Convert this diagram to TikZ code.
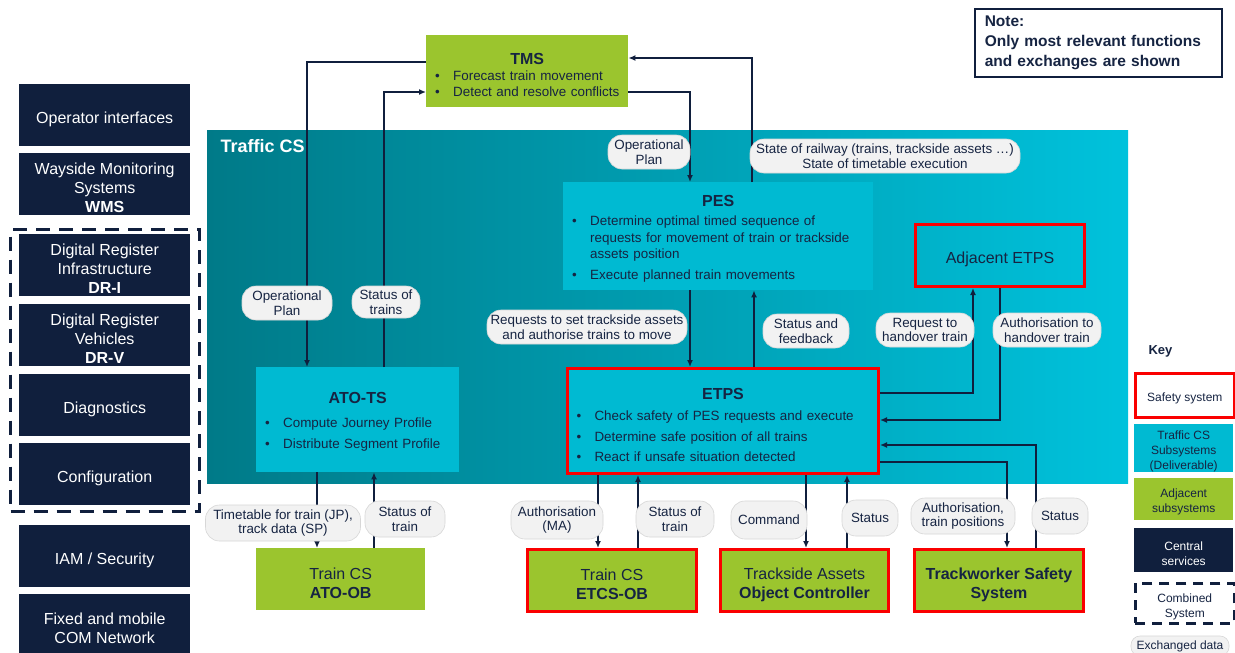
\documentclass[tikz,border=0pt]{standalone}
\usepackage{fontspec}
\setmainfont{Liberation Sans}
\usepackage{xcolor}
\usepackage{tikz}
\usetikzlibrary{arrows.meta}

\definecolor{navy}{RGB}{16,31,61}
\definecolor{txtblue}{RGB}{22,36,66}
\definecolor{grn}{RGB}{155,197,46}
\definecolor{cyn}{RGB}{0,186,210}
\definecolor{tealL}{RGB}{0,122,136}
\definecolor{tealR}{RGB}{0,194,220}
\definecolor{bub}{RGB}{242,242,242}
\definecolor{bubline}{RGB}{215,215,215}
\definecolor{sred}{RGB}{250,0,0}

\newcommand{\bitem}[1]{\par\noindent\hangindent=27pt\hangafter=1\hspace*{9pt}\makebox[18pt][l]{\textbullet}#1\par}
\newcommand{\bodyfont}{\fontsize{13.4}{16.5}\selectfont}
\newcommand{\titlefont}{\fontsize{16}{19}\selectfont\bfseries}
\newcommand{\dn}{\rule{0pt}{19.5pt}}
\newcommand{\kdn}{\rule{0pt}{15pt}}

\begin{document}
\begin{tikzpicture}[x=1pt,y=-1pt]

\tikzstyle{blk}=[anchor=north west,inner sep=0pt,text=txtblue]
\tikzstyle{sub}=[blk,fill=cyn]
\tikzstyle{adjsys}=[blk,fill=grn,align=center,font=\fontsize{16}{19}\selectfont]
\tikzstyle{safety}=[draw=sred,line width=3pt]
\tikzstyle{central}=[blk,fill=navy,text=white,align=center,minimum width=171pt,minimum height=62pt,font=\fontsize{16}{19}\selectfont]
\tikzstyle{bubble}=[fill=bub,draw=bubline,line width=0.6pt,rounded corners=14pt,inner sep=2pt,align=center,text=txtblue,font=\fontsize{13.4}{14.5}\selectfont]
\tikzstyle{flow}=[draw=navy,line width=1.6pt,-{Latex[length=7pt,width=6pt]}]
\tikzstyle{keybox}=[blk,align=center,minimum width=99pt,minimum height=44pt,font=\fontsize{12}{15}\selectfont]

\useasboundingbox (0,0) rectangle (1235,653);
\fill[white] (0,0) rectangle (1235,653);

%% Traffic CS area
\fill[left color=tealL,right color=tealR] (207,130) rectangle (1128,483);
\node[anchor=west,text=white,font=\fontsize{18}{22}\selectfont\bfseries] (trafficcs) at (217,146) {Traffic CS};

%% TMS
\node[adjsys,align=left,minimum width=202pt,minimum height=72pt,text width=202pt,font=\bodyfont] (tms) at (426,35)
  {{\centering\titlefont\rule{0pt}{19.5pt}TMS\par}\vspace{-1pt}\bitem{Forecast train movement}\bitem{Detect and resolve conflicts}};

%% PES
\node[sub,align=left,minimum width=310pt,minimum height=108pt,text width=310pt,font=\bodyfont] (pes) at (563,182)
  {{\centering\titlefont\rule{0pt}{15.5pt}PES\par}\vspace{-1pt}\setlength{\parskip}{4pt}%
   \bitem{Determine optimal timed sequence of\newline requests for movement of train or trackside\newline assets position}%
   \bitem{Execute planned train movements}};

%% ATO-TS
\node[sub,align=left,minimum width=203pt,minimum height=105pt,text width=203pt,font=\bodyfont] (atots) at (256,367)
  {{\centering\titlefont\rule{0pt}{14.5pt}ATO-TS\par}\vspace{4pt}\setlength{\parskip}{4pt}%
   \bitem{Compute Journey Profile}\bitem{Distribute Segment Profile}};

%% ETPS
\node[sub,safety,align=left,minimum width=311pt,minimum height=105pt,text width=311pt,font=\bodyfont] (etps) at (566,367)
  {{\centering\titlefont\rule{0pt}{19.5pt}ETPS\par}\vspace{1pt}\setlength{\parskip}{4pt}%
   \bitem{Check safety of PES requests and execute}\bitem{Determine safe position of all trains}%
   \bitem{React if unsafe situation detected}};

%% Adjacent ETPS
\node[blk,safety,align=center,minimum width=169pt,minimum height=62pt,font=\fontsize{16}{19}\selectfont] (adj) at (914,223) {\dn Adjacent ETPS};

%% bottom subsystems
\node[adjsys,minimum width=169pt,minimum height=62pt] (atoob) at (256,548) {\dn Train CS\\\textbf{ATO-OB}};
\node[adjsys,safety,minimum width=169pt,minimum height=62pt] (etcsob) at (526,548) {\dn Train CS\\\textbf{ETCS-OB}};
\node[adjsys,safety,minimum width=168pt,minimum height=62pt] (oc) at (719,548) {\dn Trackside Assets\\\textbf{Object Controller}};
\node[adjsys,safety,minimum width=169pt,minimum height=62pt] (tws) at (913,548) {\dn\textbf{Trackworker Safety}\\\textbf{System}};

%% central services
\node[central] (opif) at (19,84) {\dn Operator interfaces};
\node[central] (wms) at (19,153) {\dn Wayside Monitoring\\Systems\\\textbf{WMS}};
\node[central] (dri) at (19,234) {\dn Digital Register\\Infrastructure\\\textbf{DR-I}};
\node[central] (drv) at (19,304) {\dn Digital Register\\Vehicles\\\textbf{DR-V}};
\node[central] (diag) at (19,374) {\dn Diagnostics};
\node[central] (conf) at (19,443) {\dn Configuration};
\node[central] (iam) at (19,525) {\dn IAM / Security};
\node[central,minimum height=60pt] (com) at (19,594) {\dn Fixed and mobile\\COM Network};
\node[blk,draw=navy,line width=3pt,dash pattern=on 14pt off 9pt,minimum width=189pt,minimum height=282pt] (combined) at (9,228) {};

%% exchanges
\draw[flow] (tms.west |- 0,62) -| (atots.north -| 307,0);
\draw[flow] (atots.north -| 384,0) |- (tms.west |- 0,92);
\draw[flow] (tms.east |- 0,92) -| (pes.north -| 690,0);
\draw[flow] (pes.north -| 752,0) |- (tms.east |- 0,58);
\draw[flow] (pes.south -| 690,0) -- (etps.north -| 690,0);
\draw[flow] (etps.north -| 754,0) -- (pes.south -| 754,0);
\draw[flow] (etps.east |- 0,393) -| (adj.south -| 973,0);
\draw[flow] (adj.south -| 1000,0) |- (etps.east |- 0,420);
\draw[flow] (tws.north -| 1036,0) |- (etps.east |- 0,445);
\draw[flow] (etps.east |- 0,462) -| (tws.north -| 1007,0);
\draw[flow] (atots.south -| 317,0) -- (atoob.north -| 317,0);
\draw[flow] (atoob.north -| 374,0) -- (atots.south -| 374,0);
\draw[flow] (etps.south -| 598,0) -- (etcsob.north -| 598,0);
\draw[flow] (etcsob.north -| 638,0) -- (etps.south -| 638,0);
\draw[flow] (etps.south -| 806,0) -- (oc.north -| 806,0);
\draw[flow] (oc.north -| 847,0) -- (etps.south -| 847,0);

%% exchanged data
\node[bubble,minimum width=90pt,minimum height=34pt] (opplanA) at (287,303) {Operational\\Plan};
\node[bubble,minimum width=68pt,minimum height=32pt] (stattrains) at (386,302) {Status of\\trains};
\node[bubble,minimum width=82pt,minimum height=34pt] (opplanB) at (649,152) {Operational\\Plan};
\node[bubble,minimum width=270pt,minimum height=34pt] (staterail) at (885,156) {State of railway (trains, trackside assets …)\\State of timetable execution};
\node[bubble,minimum width=200pt,minimum height=34pt] (reqset) at (587,327) {Requests to set trackside assets\\and authorise trains to move};
\node[bubble,minimum width=86pt,minimum height=34pt] (statfb) at (806,331) {Status and\\feedback};
\node[bubble,minimum width=98pt,minimum height=34pt] (reqhand) at (925,330) {Request to\\handover train};
\node[bubble,minimum width=108pt,minimum height=34pt] (authhand) at (1047,330) {Authorisation to\\handover train};
\node[bubble,minimum width=155pt,minimum height=36pt] (timetable) at (283,523) {Timetable for train (JP),\\track data (SP)};
\node[bubble,minimum width=80pt,minimum height=36pt] (stattrainA) at (405,519) {Status of\\train};
\node[bubble,minimum width=92pt,minimum height=38pt] (authma) at (557,520) {Authorisation\\(MA)};
\node[bubble,minimum width=78pt,minimum height=36pt] (stattrainB) at (675,519) {Status of\\train};
\node[bubble,minimum width=76pt,minimum height=38pt] (command) at (769,520) {Command};
\node[bubble,minimum width=56pt,minimum height=36pt] (statA) at (870,518) {Status};
\node[bubble,minimum width=104pt,minimum height=36pt] (authtp) at (963,516) {Authorisation,\\train positions};
\node[bubble,minimum width=56pt,minimum height=36pt] (statB) at (1060,516) {Status};

%% note
\node[blk,draw=navy,line width=1.5pt,minimum width=247pt,minimum height=68pt,text width=227pt,inner xsep=10pt,align=left,font=\fontsize{15.5}{20}\selectfont\bfseries] (note) at (974,8)
  {Note:\\Only most relevant functions\\and exchanges are shown};

%% key
\node[anchor=west,text=txtblue,font=\fontsize{13}{15}\selectfont\bfseries] (key) at (1145,351) {Key};
\node[keybox,fill=white,draw=sred,line width=2.5pt] (keysafe) at (1134,372) {\kdn Safety system};
\node[keybox,fill=cyn,text=txtblue,minimum height=46pt] (keysub) at (1134,424) {\kdn Traffic CS\\Subsystems\\(Deliverable)};
\node[keybox,fill=grn,text=txtblue,minimum height=42pt] (keyadj) at (1134,478) {\kdn Adjacent\\subsystems};
\node[keybox,fill=navy,text=white] (keycentral) at (1134,528) {\kdn Central\\services};
\node[keybox,draw=navy,line width=2.5pt,dash pattern=on 10pt off 7pt,text=txtblue,minimum height=40pt] (keycomb) at (1134,582) {\kdn Combined\\System};
\node[bubble,rounded corners=9pt,minimum width=98pt,minimum height=20pt,font=\fontsize{12}{14}\selectfont] (keyex) at (1180,646) {Exchanged data};

\end{tikzpicture}
\end{document}
